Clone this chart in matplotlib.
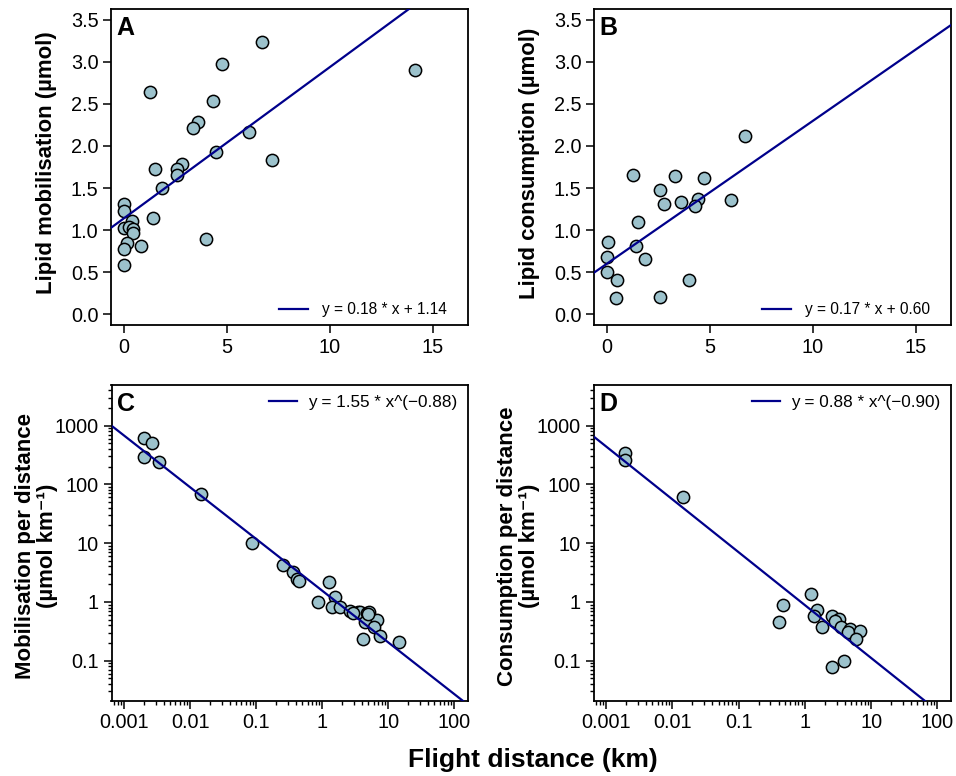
import numpy as np
import matplotlib
matplotlib.use("Agg")
import matplotlib.pyplot as plt
from matplotlib.ticker import FixedLocator, FixedFormatter, LogLocator, NullFormatter

plt.rcParams['font.family'] = ['Liberation Sans', 'DejaVu Sans']

# ---------------- data ----------------
# Panel A: flight distance (km) vs lipid mobilisation (umol)
a_dist = [6.68, 4.78, 1.27, 4.30, 3.59, 3.33, 6.09, 4.46, 7.20, 1.53, 2.82, 2.59, 2.56, 1.84,
          0.02, 0.00, 1.40, 0.37, 0.00, 0.26, 0.45, 0.42, 0.13, 0.00, 0.85, 4.00, 0.00, 14.14]
a_mob = [3.24, 2.97, 2.64, 2.53, 2.29, 2.21, 2.17, 1.93, 1.83, 1.73, 1.78, 1.73, 1.65, 1.50,
         1.31, 1.23, 1.14, 1.11, 1.02, 1.04, 1.01, 0.96, 0.85, 0.78, 0.81, 0.89, 0.58, 2.90]
a_fit = (0.18, 1.14)

# Panel B: flight distance (km) vs lipid consumption (umol)
b_dist = [6.68, 1.28, 3.30, 4.73, 2.58, 2.79, 3.59, 4.44, 4.25, 6.04, 1.52, 0.05, 1.41, 0.00,
          1.84, 0.00, 0.48, 3.99, 0.45, 2.56]
b_cons = [2.12, 1.66, 1.64, 1.62, 1.48, 1.31, 1.33, 1.37, 1.29, 1.36, 1.10, 0.86, 0.81, 0.68,
          0.66, 0.50, 0.41, 0.40, 0.19, 0.20]
b_fit = (0.17, 0.60)

# Panel C: flight distance (km) vs mobilisation per distance (umol/km)
c_dist = [0.0020, 0.00265, 0.0020, 0.00336, 0.0148, 0.086, 0.251, 0.36, 0.42, 0.45, 1.28, 1.59,
          0.86, 1.42, 1.87, 2.65, 3.43, 3.76, 4.76, 5.10, 4.48, 6.75, 6.10, 7.40, 4.14, 14.5,
          2.90, 4.90]
c_mpd = [622, 499, 292, 237, 69, 10.1, 4.22, 3.17, 2.44, 2.30, 2.14, 1.19,
         0.99, 0.81, 0.81, 0.69, 0.67, 0.66, 0.64, 0.66, 0.46, 0.49, 0.37, 0.26, 0.23, 0.21,
         0.65, 0.62]
c_fit = (1.55, -0.88)

# Panel D: flight distance (km) vs consumption per distance (umol/km)
d_dist = [0.00194, 0.00194, 0.0144, 1.25, 0.46, 0.40, 1.52, 1.37, 2.60, 3.27, 2.82, 1.84, 3.56,
          4.75, 4.48, 6.75, 6.00, 3.95, 2.56]
d_cpd = [346, 256, 60, 1.34, 0.90, 0.46, 0.72, 0.58, 0.58, 0.51, 0.47, 0.37, 0.37,
         0.34, 0.31, 0.32, 0.23, 0.10, 0.077]
d_fit = (0.88, -0.90)

lin_xticks = [0, 5, 10, 15]
lin_yticks = [0.0, 0.5, 1.0, 1.5, 2.0, 2.5, 3.0, 3.5]
lin_yticklabels = ["0.0", "0.5", "1.0", "1.5", "2.0", "2.5", "3.0", "3.5"]
log_xticks = [0.001, 0.01, 0.1, 1, 10, 100]
log_xticklabels = ["0.001", "0.01", "0.1", "1", "10", "100"]
log_yticks = [0.1, 1, 10, 100, 1000]
log_yticklabels = ["0.1", "1", "10", "100", "1000"]

# ---------------- style ----------------
PT_FILL = "#9cc2cc"
LINE_C = "#00008b"
TICK_FS = 14.3
LEG_FS_LIN = 11.2
LEG_FS_LOG = 12.3
LAB_FS = 16
LET_FS = 18

W, H = 956, 776
fig = plt.figure(figsize=(W / 100, H / 100), dpi=100)


def px_axes(l, r, t, b):
    return fig.add_axes([l / W, 1 - b / H, (r - l) / W, (b - t) / H])


axA = px_axes(111, 468, 9, 325)
axB = px_axes(594, 951, 9, 325)
axC = px_axes(111.5, 467.5, 385, 700.7)
axD = px_axes(593.5, 950.7, 385, 700.7)


def style(ax):
    for s in ax.spines.values():
        s.set_linewidth(1.3)
        s.set_color("black")
    ax.tick_params(which="major", direction="out", length=6, width=1.1,
                   labelsize=TICK_FS, pad=3, colors="black")
    ax.tick_params(which="minor", direction="out", length=3.2, width=1.0)


def scatter(ax, x, y):
    ax.scatter(x, y, s=78, c=PT_FILL, edgecolors="black", linewidths=1.1, zorder=3)


# Linear panels
for ax, x, y, fit in [(axA, a_dist, a_mob, a_fit), (axB, b_dist, b_cons, b_fit)]:
    style(ax)
    scatter(ax, x, y)
    ax.set_xlim(-0.63, 16.7)
    ax.set_ylim(-0.13, 3.63)
    xl = np.array(ax.get_xlim())
    ax.plot(xl, fit[0] * xl + fit[1], color=LINE_C, lw=1.6, zorder=4,
            label="y = %.2f * x + %.2f" % fit)
    ax.set_xlim(-0.63, 16.7)
    ax.set_ylim(-0.13, 3.63)
    ax.xaxis.set_major_locator(FixedLocator(lin_xticks))
    ax.yaxis.set_major_locator(FixedLocator(lin_yticks))
    ax.yaxis.set_major_formatter(FixedFormatter(lin_yticklabels))
    ax.legend(loc="lower right", bbox_to_anchor=(0.958, 0.005), frameon=False,
              fontsize=LEG_FS_LIN, handlelength=1.87, handletextpad=0.9, borderaxespad=0)

# Log panels
for ax, x, y, fit in [(axC, c_dist, c_mpd, c_fit), (axD, d_dist, d_cpd, d_fit)]:
    style(ax)
    ax.set_xscale("log")
    ax.set_yscale("log")
    scatter(ax, x, y)
    xlim = (10 ** -3.19, 10 ** 2.2)
    ylim = (0.0208, 4900)
    xx = np.logspace(np.log10(xlim[0]), np.log10(xlim[1]), 200)
    ax.plot(xx, fit[0] * xx ** fit[1], color=LINE_C, lw=1.6, zorder=4,
            label="y = %.2f * x^(\u2212%.2f)" % (fit[0], -fit[1]))
    ax.set_xlim(*xlim)
    ax.set_ylim(*ylim)
    ax.xaxis.set_major_locator(FixedLocator(log_xticks))
    ax.xaxis.set_major_formatter(FixedFormatter(log_xticklabels))
    ax.yaxis.set_major_locator(FixedLocator(log_yticks))
    ax.yaxis.set_major_formatter(FixedFormatter(log_yticklabels))
    ax.xaxis.set_minor_locator(LogLocator(base=10, subs=np.arange(2, 10), numticks=20))
    ax.yaxis.set_minor_locator(LogLocator(base=10, subs=np.arange(2, 10), numticks=20))
    ax.xaxis.set_minor_formatter(NullFormatter())
    ax.yaxis.set_minor_formatter(NullFormatter())
    ax.legend(loc="upper right", bbox_to_anchor=(0.99, 0.99), frameon=False,
              fontsize=LEG_FS_LOG, handlelength=1.65, handletextpad=0.65, borderaxespad=0)

# Panel letters
for ax, letter in [(axA, "A"), (axB, "B"), (axC, "C"), (axD, "D")]:
    ax.text(0.016, 0.978, letter, transform=ax.transAxes, fontsize=LET_FS,
            fontweight="bold", ha="left", va="top")

# Y labels
fig.text(47 / W, 1 - 163 / H, "Lipid mobilisation (\u00b5mol)", rotation=90,
         ha="center", va="center", fontsize=LAB_FS, fontweight="bold")
fig.text(529 / W, 1 - 163 / H, "Lipid consumption (\u00b5mol)", rotation=90,
         ha="center", va="center", fontsize=LAB_FS, fontweight="bold")
fig.text(26 / W, 1 - 546 / H, "Mobilisation per distance", rotation=90,
         ha="center", va="center", fontsize=LAB_FS, fontweight="bold")
fig.text(47 / W, 1 - 546 / H, "(\u00b5mol km\u207b\u00b9)", rotation=90,
         ha="center", va="center", fontsize=LAB_FS, fontweight="bold")
fig.text(508 / W, 1 - 546 / H, "Consumption per distance", rotation=90,
         ha="center", va="center", fontsize=LAB_FS, fontweight="bold")
fig.text(529 / W, 1 - 546 / H, "(\u00b5mol km\u207b\u00b9)", rotation=90,
         ha="center", va="center", fontsize=LAB_FS, fontweight="bold")

# X label
fig.text(533 / W, 1 - 767 / H, "Flight distance (km)", ha="center", va="baseline",
         fontsize=19, fontweight="bold")

fig.savefig("out.png", dpi=100)
